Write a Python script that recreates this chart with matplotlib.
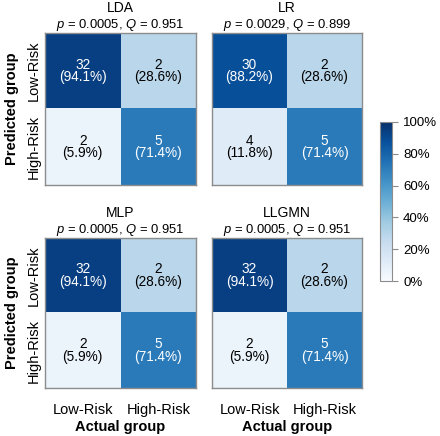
import matplotlib
matplotlib.use("Agg")
import matplotlib.pyplot as plt
import numpy as np

plt.rcParams['font.family'] = ['Liberation Sans', 'DejaVu Sans']
plt.rcParams['mathtext.fontset'] = 'custom'
plt.rcParams['mathtext.rm'] = 'Liberation Sans'
plt.rcParams['mathtext.it'] = 'Liberation Sans:italic'

models = ["LDA", "LR", "MLP", "LLGMN"]
p_values = ["0.0005", "0.0029", "0.0005", "0.0005"]
q_values = ["0.951", "0.899", "0.951", "0.951"]
# counts: rows = predicted (Low, High), cols = actual (Low, High)
counts = [
    [[32, 2], [2, 5]],
    [[30, 2], [4, 5]],
    [[32, 2], [2, 5]],
    [[32, 2], [2, 5]],
]
percents = [
    [[94.1, 28.6], [5.9, 71.4]],
    [[88.2, 28.6], [11.8, 71.4]],
    [[94.1, 28.6], [5.9, 71.4]],
    [[94.1, 28.6], [5.9, 71.4]],
]
group_labels = ["Low-Risk", "High-Risk"]
cbar_ticks = [0, 20, 40, 60, 80, 100]

W, H = 440, 436
fig = plt.figure(figsize=(W / 100, H / 100), dpi=100)

def px_axes(x0, y0, x1, y1):
    return fig.add_axes([x0 / W, 1 - y1 / H, (x1 - x0) / W, (y1 - y0) / H])

boxes = [(45, 33, 196, 185), (212, 33, 362, 185),
         (45, 238, 196, 388), (212, 238, 362, 388)]
edge = "#8c8c8c"

for i, name in enumerate(models):
    ax = px_axes(*boxes[i])
    pct = np.array(percents[i])
    im = ax.imshow(pct, cmap="Blues", vmin=0, vmax=100, aspect="auto")
    for r in range(2):
        for c in range(2):
            col = "white" if pct[r, c] > 60 else "black"
            ax.text(c, r, f"{counts[i][r][c]}\n({pct[r, c]:.1f}%)",
                    ha="center", va="center", fontsize=9.8, color=col,
                    linespacing=0.85)
    for s in ax.spines.values():
        s.set_color(edge)
        s.set_linewidth(1.0)
    ax.set_title(f"$p$ = {p_values[i]}, $Q$ = {q_values[i]}",
                 fontsize=9.4, pad=3)
    ax.text(0.5, 1.0 + 21 / 152, name, transform=ax.transAxes, ha="center",
            va="baseline", fontsize=10)
    ax.tick_params(length=0)
    if i % 2 == 0:
        ax.set_yticks([0, 1])
        ax.set_yticklabels(group_labels, rotation=90, va="center",
                           fontsize=10.5)
        ax.tick_params(axis="y", pad=3)
        ax.set_ylabel("Predicted group", fontsize=10.5, fontweight="bold",
                      labelpad=5.5)
    else:
        ax.set_yticks([])
    if i >= 2:
        ax.set_xticks([0, 1])
        ax.set_xticklabels(group_labels, fontsize=10.5)
        ax.tick_params(axis="x", pad=11)
        ax.set_xlabel("Actual group", fontsize=10.5, fontweight="bold",
                      labelpad=2)
    else:
        ax.set_xticks([])

cax = px_axes(380, 122, 392, 281)
cb = fig.colorbar(im, cax=cax, ticks=cbar_ticks)
cb.ax.set_yticklabels([f"{t}%" for t in cbar_ticks], fontsize=9.5)
cb.outline.set_edgecolor(edge)
cb.ax.tick_params(length=4, width=0.8, color=edge, pad=4)

fig.savefig("out.png", dpi=100)
